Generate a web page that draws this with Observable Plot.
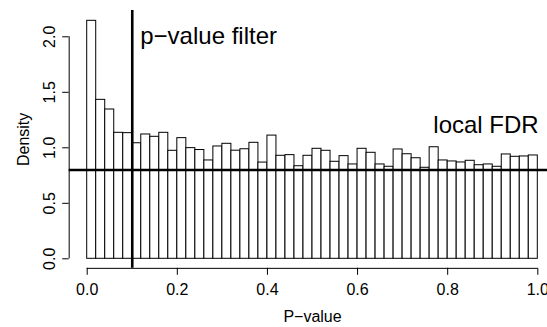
<!DOCTYPE html>
<html>
<head>
<meta charset="utf-8">
<script src="https://cdn.jsdelivr.net/npm/d3@7"></script>
<script src="https://cdn.jsdelivr.net/npm/@observablehq/plot@0.6"></script>
<style>
  html, body { margin: 0; padding: 0; background: white; }
  #chart { width: 547px; height: 327px; overflow: hidden; }
</style>
</head>
<body>
<div id="chart"></div>
<script>
// Histogram densities for 50 bins of width 0.02 on [0, 1]
const binWidth = 0.02;
const density = [
  2.144, 1.432, 1.345, 1.135, 1.132, 1.041, 1.120, 1.099, 1.135, 0.973,
  1.087, 0.997, 0.980, 0.886, 1.012, 1.036, 0.974, 0.987, 1.045, 0.867,
  1.110, 0.928, 0.934, 0.834, 0.928, 0.991, 0.973, 0.874, 0.925, 0.850,
  0.991, 0.955, 0.850, 0.829, 0.985, 0.942, 0.906, 0.820, 1.005, 0.886,
  0.877, 0.868, 0.883, 0.843, 0.850, 0.829, 0.940, 0.919, 0.922, 0.931
];
const xTicks = [0, 0.2, 0.4, 0.6, 0.8, 1.0];
const yTicks = [0, 0.5, 1.0, 1.5, 2.0];
const xLim = [-0.04, 1.04];     // R plot region (4% extension)
const yLim = [-0.086, 2.23];
const pFilter = 0.1;            // vertical line
const fdrLevel = 0.8;           // horizontal line
const annotations = [
  {label: "p\u2212value filter", x: 0.1, y: 2.0, anchor: "start", dx: 8},
  {label: "local FDR", x: 0.885, y: 1.2, anchor: "middle", dx: 0}
];
const xLabel = "P\u2212value";
const yLabel = "Density";

const bins = density.map((d, i) => ({x1: i * binWidth, x2: (i + 1) * binWidth, density: d}));

const W = 547, H = 327;
const mLeft = 68.7, mTop = 10, mBottom = 59.2;

const chart = Plot.plot({
  width: W,
  height: H,
  marginLeft: mLeft,
  marginRight: 0,
  marginTop: mTop,
  marginBottom: mBottom,
  style: {fontFamily: "'Liberation Sans', Arial, Helvetica, sans-serif", fontSize: "16px", background: "white", color: "black"},
  x: {domain: [0, 1], range: [86.7, 537.3]},
  y: {domain: [0, 2], range: [258.3, 36.3]},
  marks: [
    Plot.rectY(bins, {x1: "x1", x2: "x2", y: "density", fill: "white", stroke: "black", strokeWidth: 1}),
    // axis lines (R style: from first to last tick)
    Plot.ruleY([yLim[0]], {x1: xTicks[0], x2: xTicks[xTicks.length - 1], stroke: "black", strokeWidth: 1}),
    Plot.ruleX([xLim[0]], {y1: yTicks[0], y2: yTicks[yTicks.length - 1], stroke: "black", strokeWidth: 1}),
    Plot.axisX(xTicks, {tickSize: 7, tickPadding: 8.5, tickFormat: d3.format(".1f"), fontSize: 16, label: null}),
    Plot.axisY(yTicks, {tickSize: 6.5, tickFormat: () => "", label: null}),
    Plot.text(yTicks, {y: d => d, text: d => d3.format(".1f")(d), frameAnchor: "left", dx: -18.9, rotate: -90, textAnchor: "middle", lineAnchor: "middle", fontSize: 16, fill: "black"}),
    Plot.text([yLabel], {frameAnchor: "left", dx: -45.5, rotate: -90, textAnchor: "middle", lineAnchor: "middle", fontSize: 16, fill: "black"}),
    Plot.text([xLabel], {x: () => (xLim[0] + xLim[1]) / 2, frameAnchor: "bottom", dy: 48.4, textAnchor: "middle", lineAnchor: "middle", fontSize: 16, fill: "black"}),
    Plot.ruleY([fdrLevel], {stroke: "black", strokeWidth: 2.6}),
    Plot.ruleX([pFilter], {stroke: "black", strokeWidth: 2.6}),
    Plot.text(annotations, {x: "x", y: "y", text: "label", textAnchor: "start", dx: 8, lineAnchor: "middle", fontSize: 24, fill: "black", filter: d => d.anchor === "start"}),
    Plot.text(annotations, {x: "x", y: "y", text: "label", textAnchor: "middle", lineAnchor: "middle", fontSize: 24, fill: "black", filter: d => d.anchor === "middle"})
  ]
});
document.getElementById("chart").appendChild(chart);
</script>
</body>
</html>
